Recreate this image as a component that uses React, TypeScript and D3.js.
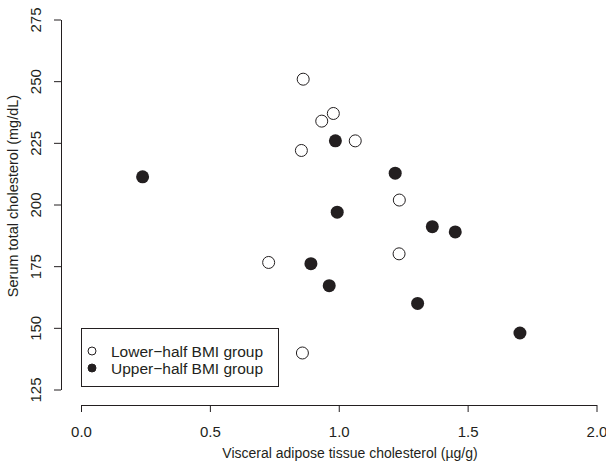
import { useRef, useEffect } from 'react';
import * as d3 from 'd3';

// Lower-half BMI group (open circles)
const lowerX = [0.862, 0.934, 0.979, 0.855, 1.064, 1.235, 0.728, 1.234, 0.859];
const lowerY = [250.8, 233.8, 236.9, 221.9, 225.8, 201.8, 176.5, 180.0, 139.8];

// Upper-half BMI group (filled circles)
const upperX = [0.239, 0.987, 1.219, 0.994, 1.363, 1.452, 0.892, 0.963, 1.306, 1.703];
const upperY = [211.2, 225.8, 212.7, 196.9, 191.0, 188.9, 176.0, 167.1, 159.9, 147.9];

const xTicks = [0, 0.5, 1, 1.5, 2];
const yTicks = [125, 150, 175, 200, 225, 250, 275];

const legendLabels = ['Lower\u2212half BMI group', 'Upper\u2212half BMI group'];

const ink = '#231f20';
const font = '"Liberation Sans", Arial, Helvetica, sans-serif';

const App = () => {
  const svgRef = useRef<SVGSVGElement>(null);

  useEffect(() => {
    if (!svgRef.current) return;
    const width = 606;
    const height = 462;
    const svg = d3.select(svgRef.current)
      .attr('width', width)
      .attr('height', height)
      .style('font-family', font);

    svg.selectAll('*').remove();

    const x = d3.scaleLinear().domain([0, 2]).range([81, 596.5]);
    const y = d3.scaleLinear().domain([125, 275]).range([389.5, 19.5]);

    // x axis
    const gx = svg.append('g')
      .attr('transform', 'translate(0,405)')
      .call(d3.axisBottom(x).tickValues(xTicks).tickFormat(d3.format('.1f')).tickSize(7).tickSizeOuter(0));
    gx.select('.domain').attr('stroke', ink);
    gx.selectAll('line').attr('stroke', ink);
    gx.selectAll('text')
      .attr('fill', ink)
      .attr('font-size', 15)
      .attr('font-family', font)
      .attr('y', 21);

    // y axis
    const gy = svg.append('g')
      .attr('transform', 'translate(61,0)')
      .call(d3.axisLeft(y).tickValues(yTicks).tickSize(7).tickSizeOuter(0));
    gy.select('.domain').attr('stroke', ink);
    gy.selectAll('line').attr('stroke', ink);
    gy.selectAll('text')
      .attr('fill', ink)
      .attr('font-size', 15)
      .attr('font-family', font)
      .attr('x', null)
      .attr('dy', null)
      .attr('text-anchor', 'middle')
      .attr('transform', 'translate(-24,0) rotate(-90)')
      .attr('dominant-baseline', 'middle');

    // axis titles
    svg.append('text')
      .attr('x', 350)
      .attr('y', 458)
      .attr('text-anchor', 'middle')
      .attr('font-size', 14)
      .attr('fill', ink)
      .text('Visceral adipose tissue cholesterol (\u00b5g/g)');

    svg.append('text')
      .attr('transform', 'translate(18,196) rotate(-90)')
      .attr('text-anchor', 'middle')
      .attr('font-size', 14.5)
      .attr('fill', ink)
      .text('Serum total cholesterol (mg/dL)');

    // points
    svg.append('g').selectAll('circle')
      .data(lowerX.map((v, i) => [v, lowerY[i]]))
      .join('circle')
      .attr('cx', d => x(d[0]))
      .attr('cy', d => y(d[1]))
      .attr('r', 6)
      .attr('fill', 'white')
      .attr('stroke', ink)
      .attr('stroke-width', 1);

    svg.append('g').selectAll('circle')
      .data(upperX.map((v, i) => [v, upperY[i]]))
      .join('circle')
      .attr('cx', d => x(d[0]))
      .attr('cy', d => y(d[1]))
      .attr('r', 6.5)
      .attr('fill', ink);

    // legend
    const lg = svg.append('g');
    lg.append('rect')
      .attr('x', 81.5).attr('y', 328.5)
      .attr('width', 197).attr('height', 58)
      .attr('fill', 'white')
      .attr('stroke', ink);
    legendLabels.forEach((label, i) => {
      const cy = 351 + i * 17;
      lg.append('circle')
        .attr('cx', 92).attr('cy', cy).attr('r', 4)
        .attr('fill', i === 0 ? 'white' : ink)
        .attr('stroke', ink);
      lg.append('text')
        .attr('x', 111).attr('y', cy)
        .attr('dy', '0.36em')
        .attr('font-size', 15.5)
        .attr('fill', ink)
        .text(label);
    });
  }, []);

  return <svg ref={svgRef} style={{ display: 'block', position: 'absolute', left: 0, top: 0 }} />;
};

export default App;
